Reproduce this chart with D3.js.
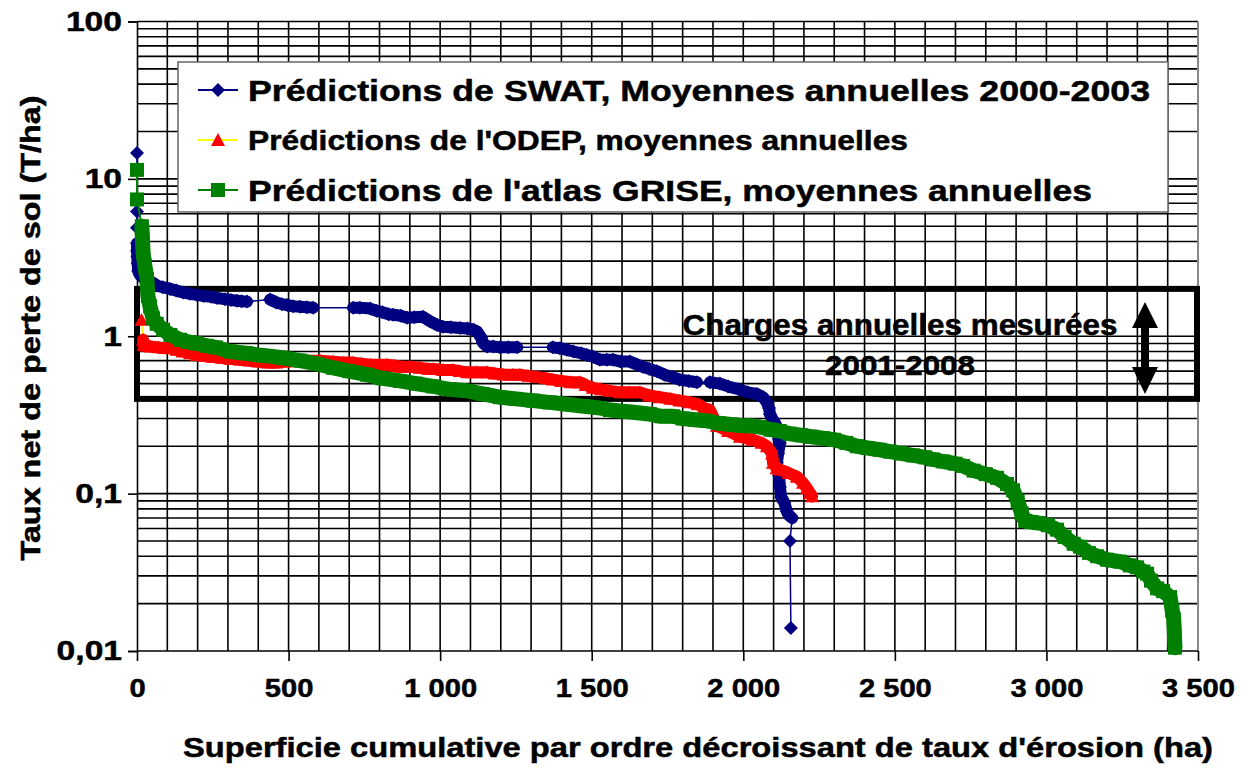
<!DOCTYPE html>
<html>
<head>
<meta charset="utf-8">
<script src="https://cdn.jsdelivr.net/npm/d3@7"></script>
<style>
body { margin: 0; background: #fff; }
svg { font-family: "Liberation Sans", Arial, sans-serif; font-weight: bold; }
svg text { stroke: #000; stroke-width: 0.5px; }
</style>
</head>
<body>
<svg id="chart" width="1253" height="768"></svg>
<script>
// data: [superficie cumulée (ha), taux (T/ha)]
var swat = [[0,14.6],[0,6.2],[0,4.9],[0,3.9],[0,3.5],[1,3.2],[2,2.9],[4,2.6],[10,2.45],[20,2.35],[35,2.25],[50,2.2],[66,2.1],[85,2.05],[109,2.0],[130,1.95],[152,1.9],[175,1.86],[198,1.83],[220,1.8],[245,1.78],[264,1.75],[290,1.72],[310,1.7],[330,1.68],[345,1.67],[363,1.66],[439,1.71],[460,1.64],[478,1.6],[495,1.58],[515,1.55],[538,1.54],[560,1.53],[581,1.52],[713,1.52],[735,1.52],[769,1.5],[790,1.45],[810,1.42],[830,1.38],[845,1.37],[870,1.35],[891,1.31],[915,1.32],[943,1.33],[965,1.25],[990,1.18],[1009,1.15],[1035,1.14],[1066,1.13],[1090,1.12],[1110,1.1],[1122,1.07],[1135,0.98],[1141,0.91],[1155,0.86],[1175,0.86],[1197,0.85],[1225,0.85],[1254,0.85],[1372,0.85],[1395,0.84],[1418,0.82],[1440,0.8],[1465,0.78],[1484,0.76],[1505,0.74],[1527,0.71],[1550,0.71],[1570,0.71],[1595,0.69],[1626,0.69],[1650,0.66],[1669,0.64],[1690,0.62],[1715,0.6],[1740,0.57],[1768,0.55],[1790,0.53],[1820,0.52],[1847,0.51],[1890,0.51],[1923,0.5],[1950,0.48],[1985,0.46],[2015,0.44],[2045,0.43],[2065,0.41],[2078,0.38],[2085,0.35],[2088,0.32],[2095,0.3],[2105,0.28],[2111,0.25],[2118,0.22],[2121,0.21],[2115,0.18],[2111,0.157],[2118,0.13],[2121,0.11],[2125,0.095],[2135,0.088],[2144,0.077],[2150,0.073],[2161,0.07],[2154,0.05],[2157,0.014]];

var odep = [[15,1.27],[20,0.95],[22,0.88],[30,0.87],[45,0.86],[70,0.85],[90,0.84],[109,0.84],[130,0.82],[150,0.8],[175,0.78],[198,0.76],[220,0.75],[250,0.74],[280,0.73],[307,0.72],[340,0.71],[370,0.7],[400,0.69],[430,0.68],[460,0.68],[490,0.69],[528,0.7],[560,0.7],[604,0.7],[647,0.69],[680,0.68],[713,0.68],[740,0.67],[770,0.66],[800,0.66],[825,0.66],[850,0.65],[868,0.64],[900,0.64],[934,0.63],[960,0.62],[977,0.62],[1010,0.61],[1042,0.61],[1065,0.6],[1089,0.59],[1120,0.59],[1155,0.59],[1180,0.58],[1210,0.57],[1240,0.57],[1263,0.57],[1290,0.56],[1320,0.55],[1350,0.54],[1372,0.53],[1400,0.52],[1430,0.51],[1461,0.51],[1480,0.49],[1504,0.47],[1530,0.46],[1560,0.45],[1593,0.44],[1625,0.44],[1659,0.44],[1690,0.42],[1725,0.41],[1760,0.4],[1790,0.39],[1824,0.38],[1850,0.37],[1870,0.35],[1890,0.34],[1900,0.31],[1913,0.27],[1950,0.25],[1989,0.23],[2030,0.22],[2060,0.21],[2078,0.2],[2095,0.18],[2098,0.157],[2110,0.145],[2121,0.142],[2150,0.135],[2177,0.128],[2197,0.117],[2210,0.108],[2220,0.101],[2227,0.096]];

var grise = [[0,11.4],[0,7.4],[16,5.0],[18,4.1],[20,3.4],[26,2.8],[33,2.3],[36,1.8],[43,1.55],[53,1.3],[65,1.2],[86,1.1],[110,1.02],[142,0.95],[170,0.92],[198,0.9],[230,0.87],[260,0.85],[307,0.8],[360,0.78],[400,0.76],[429,0.75],[480,0.73],[538,0.7],[590,0.67],[647,0.63],[700,0.6],[759,0.57],[810,0.54],[868,0.52],[920,0.5],[977,0.48],[1030,0.46],[1089,0.45],[1140,0.43],[1197,0.41],[1250,0.4],[1306,0.39],[1360,0.38],[1418,0.37],[1470,0.36],[1527,0.35],[1560,0.34],[1593,0.335],[1630,0.33],[1660,0.325],[1692,0.32],[1730,0.31],[1768,0.31],[1800,0.3],[1840,0.295],[1880,0.29],[1920,0.28],[1960,0.275],[2000,0.27],[2022,0.27],[2055,0.265],[2090,0.255],[2120,0.25],[2154,0.24],[2190,0.235],[2225,0.23],[2263,0.225],[2300,0.22],[2340,0.21],[2375,0.2],[2410,0.195],[2450,0.19],[2484,0.185],[2520,0.18],[2560,0.175],[2600,0.17],[2626,0.165],[2660,0.16],[2700,0.155],[2725,0.15],[2760,0.14],[2800,0.133],[2837,0.126],[2870,0.115],[2890,0.105],[2905,0.09],[2918,0.075],[2930,0.067],[2950,0.066],[2975,0.065],[3005,0.063],[3035,0.059],[3060,0.053],[3090,0.048],[3111,0.046],[3140,0.042],[3167,0.04],[3200,0.038],[3243,0.037],[3275,0.035],[3299,0.034],[3320,0.032],[3332,0.031],[3345,0.028],[3365,0.025],[3385,0.024],[3408,0.022],[3415,0.018],[3420,0.016],[3422,0.013],[3424,0.0105]];

var yTicks = [0.01, 0.1, 1, 10, 100];
var xTicks = [0, 500, 1000, 1500, 2000, 2500, 3000, 3500];
var chargeRange = [0.4, 2];

var legendLabels = [
  'Prédictions de SWAT, Moyennes annuelles 2000-2003',
  'Prédictions de l\'ODEP, moyennes annuelles',
  'Prédictions de l\'atlas GRISE, moyennes annuelles'
];

var svg = d3.select('#chart');

//Scales
var x = d3.scaleLinear().domain([0, 3500]).range([137, 1198]);
var y = d3.scaleLog().domain([0.01, 100]).range([651, 21.5]);

var fr = d3.formatLocale({ decimal: ',', thousands: ' ', grouping: [3], currency: ['', ' €'] });

//the original lettering is wider than Liberation Sans, stretch it
function stretch(sel, k) {
  sel.each(function () {
    var w = this.getComputedTextLength();
    d3.select(this).attr('textLength', w * k).attr('lengthAdjust', 'spacingAndGlyphs');
  });
}
function fit(sel, w) {
  sel.attr('textLength', w).attr('lengthAdjust', 'spacingAndGlyphs');
}

//Gridlines
var grid = svg.append('g').attr('stroke', '#000').attr('stroke-width', 1.6);
grid.selectAll('.hg').data(y.ticks().filter(function (d) { return d > 0.011; }))
  .enter().append('line')
  .attr('x1', x(0)).attr('x2', x(3500))
  .attr('y1', function (d) { return y(d); }).attr('y2', function (d) { return y(d); });
grid.selectAll('.vg').data(x.ticks(35).filter(function (d) { return d > 0 && d < 3500; }))
  .enter().append('line')
  .attr('y1', y(100)).attr('y2', y(0.01))
  .attr('x1', function (d) { return x(d); }).attr('x2', function (d) { return x(d); });

//right frame
svg.append('line').attr('x1', x(3500)).attr('x2', x(3500)).attr('y1', y(100)).attr('y2', y(0.01))
  .attr('stroke', '#888').attr('stroke-width', 2);

//Axes
var yAxis = d3.axisLeft(y).tickValues(yTicks).tickSize(9).tickPadding(6)
  .tickFormat(function (d) { return d >= 1 ? fr.format('d')(d) : fr.format('.2~f')(d); });
var gy = svg.append('g').attr('transform', 'translate(' + x(0) + ',0)').call(yAxis);
gy.selectAll('text').attr('font-size', 28).attr('font-weight', 'bold').attr('font-family', 'Liberation Sans, Arial, sans-serif').attr('fill', '#000');
gy.selectAll('line, path').attr('stroke', '#000').attr('stroke-width', 1.6);
stretch(gy.selectAll('text'), 1.2);

var xAxis = d3.axisBottom(x).tickValues(xTicks).tickSize(10).tickPadding(18)
  .tickFormat(function (d) { return fr.format(',')(d); });
var gx = svg.append('g').attr('transform', 'translate(0,' + y(0.01) + ')').call(xAxis);
gx.selectAll('text').attr('font-size', 26).attr('font-weight', 'bold').attr('font-family', 'Liberation Sans, Arial, sans-serif').attr('fill', '#000');
gx.selectAll('line, path').attr('stroke', '#000').attr('stroke-width', 1.6);
gx.select('.domain').attr('d', 'M' + x(0) + ',0H' + x(3500));
stretch(gx.selectAll('text'), 1.12);

//Axis titles
svg.append('text').attr('x', 698).attr('y', 757).attr('text-anchor', 'middle')
  .attr('font-size', 27).text('Superficie cumulative par ordre décroissant de taux d\'érosion (ha)')
  .call(fit, 1030);
svg.append('text').attr('transform', 'translate(40,328) rotate(-90)').attr('text-anchor', 'middle')
  .attr('font-size', 27).text('Taux net de perte de sol (T/ha)')
  .call(fit, 465);

//Measured loads box
var box = svg.append('g');
box.append('rect')
  .attr('x', x(0)).attr('y', y(chargeRange[1]))
  .attr('width', x(3500) - x(0) - 1).attr('height', y(chargeRange[0]) - y(chargeRange[1]))
  .attr('fill', 'none').attr('stroke', '#000').attr('stroke-width', 6);
box.append('text').attr('x', 900).attr('y', 335).attr('text-anchor', 'middle').attr('font-size', 29)
  .text('Charges annuelles mesurées').call(fit, 435);
box.append('text').attr('x', 900).attr('y', 375).attr('text-anchor', 'middle').attr('font-size', 28)
  .text('2001-2008').call(fit, 150);
//double arrow
var ax = 1145;
box.append('path')
  .attr('d', 'M' + ax + ',302 L' + (ax + 13) + ',328 L' + (ax + 4) + ',328 L' + (ax + 4) + ',367 L' + (ax + 13) + ',367 L' + ax + ',394 L' + (ax - 13) + ',367 L' + (ax - 4) + ',367 L' + (ax - 4) + ',328 L' + (ax - 13) + ',328 Z')
  .attr('fill', '#000');

//Markers
function diamondPath(s) { return 'M0,' + (-s) + 'L' + s + ',0L0,' + s + 'L' + (-s) + ',0Z'; }
function trianglePath(s) { return 'M0,' + (-s) + 'L' + s + ',' + (s * 0.85) + 'L' + (-s) + ',' + (s * 0.85) + 'Z'; }
function squarePath(s) { return 'M' + (-s) + ',' + (-s) + 'H' + s + 'V' + s + 'H' + (-s) + 'Z'; }

var series = [
  { data: swat, line: '#000080', width: 1.5, fill: '#000080', shape: diamondPath(7), band: 12, gap: 12.5 },
  { data: odep, line: '#FFFF00', width: 1.5, fill: '#FF0000', shape: trianglePath(7), band: 12, gap: 16 },
  { data: grise, line: '#008000', width: 2, fill: '#008000', shape: squarePath(7), band: 15, gap: 20 }
];

var line = d3.line().x(function (d) { return x(d[0]); }).y(function (d) { return y(d[1]); });

//runs of points packed so tight that the markers merge into a band
function denseRuns(data, gap) {
  var runs = [], cur = [data[0]];
  for (var i = 1; i < data.length; i++) {
    var a = data[i - 1], b = data[i];
    var d = Math.hypot(x(b[0]) - x(a[0]), y(b[1]) - y(a[1]));
    if (d <= gap) cur.push(b);
    else { runs.push(cur); cur = [b]; }
  }
  runs.push(cur);
  return runs.filter(function (r) { return r.length > 1; });
}

series.forEach(function (s) {
  var g = svg.append('g');
  g.append('path').datum(s.data).attr('d', line)
    .attr('fill', 'none').attr('stroke', s.line).attr('stroke-width', s.width);
  g.selectAll('path.band').data(denseRuns(s.data, s.gap)).enter().append('path').classed('band', true)
    .attr('d', line).attr('fill', 'none').attr('stroke', s.fill).attr('stroke-width', s.band)
    .attr('stroke-linejoin', 'round').attr('stroke-linecap', 'round');
  g.selectAll('path.m').data(s.data).enter().append('path').classed('m', true)
    .attr('d', s.shape).attr('fill', s.fill)
    .attr('transform', function (d) { return 'translate(' + x(d[0]) + ',' + y(d[1]) + ')'; });
});

//Legend
var legend = svg.append('g');
legend.append('rect').attr('x', 178).attr('y', 62).attr('width', 990).attr('height', 150)
  .attr('fill', '#fff').attr('stroke', '#666').attr('stroke-width', 1.5);
var legendRows = [
  { y: 90, size: 30, w: 902 },
  { y: 140, size: 27, w: 660 },
  { y: 190, size: 30, w: 844 }
];
legendRows.forEach(function (r, i) {
  var s = series[i];
  legend.append('line').attr('x1', 198).attr('x2', 238).attr('y1', r.y).attr('y2', r.y)
    .attr('stroke', s.line).attr('stroke-width', 2);
  legend.append('path').attr('d', s.shape).attr('fill', s.fill)
    .attr('transform', 'translate(218,' + r.y + ')');
  legend.append('text').attr('x', 248).attr('y', r.y).attr('dy', '0.36em')
    .attr('font-size', r.size).text(legendLabels[i]).call(fit, r.w);
});
</script>
</body>
</html>
